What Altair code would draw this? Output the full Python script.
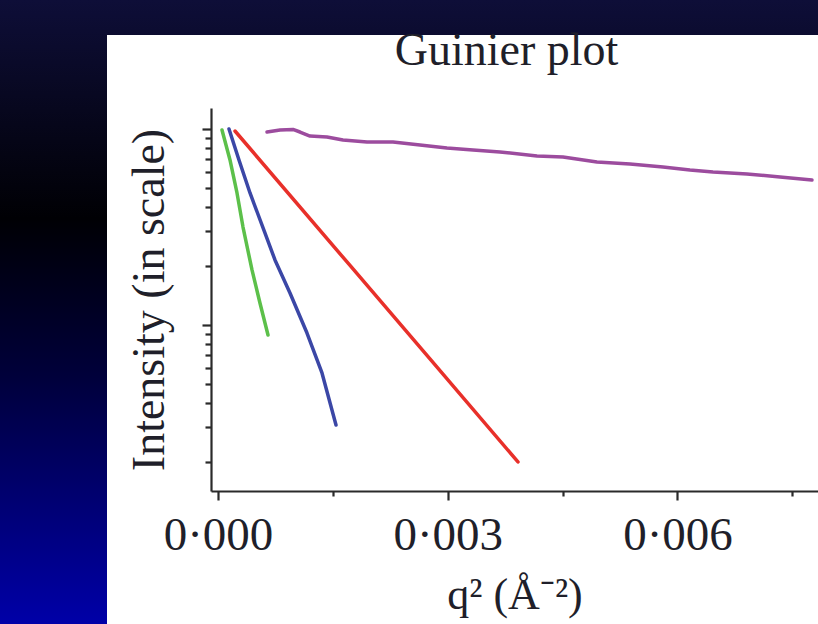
import altair as alt
import pandas as pd

# ---- data (q^2 in Å^-2, intensity in relative scale) ----
green_q2 = [0.0000522, 0.0001567, 0.0002481, 0.0003265, 0.000444, 0.000548, 0.000653]
green_I = [0.988, 0.695, 0.4716, 0.316, 0.191, 0.1295, 0.0889]

blue_q2 = [0.0001436, 0.000274, 0.000418, 0.000614, 0.000744, 0.000940, 0.001162, 0.001358, 0.001541]
blue_I = [1.0, 0.695, 0.4716, 0.2946, 0.2147, 0.1457, 0.0910, 0.0569, 0.0309]

red_q2 = [0.000222, 0.001724, 0.002768, 0.003917]
red_I = [0.977, 0.2012, 0.0671, 0.0200]

purple_q2 = [0.000640, 0.000810, 0.000979, 0.001071, 0.001201, 0.001423, 0.001632, 0.001946,
             0.002285, 0.002638, 0.002990, 0.003330, 0.003682, 0.004166, 0.004505, 0.004949,
             0.005380, 0.005811, 0.006163, 0.006464, 0.006908, 0.007339, 0.007756]
purple_I = [0.9654, 0.9883, 0.995, 0.9654, 0.921, 0.9103, 0.8788, 0.8584,
            0.8584, 0.8287, 0.8000, 0.7815, 0.7634, 0.7282, 0.7197, 0.6786,
            0.6629, 0.6400, 0.6178, 0.6035, 0.5895, 0.5691, 0.5494]

series_names = ["green", "blue", "red", "purple"]
series_colors = ["#5cc04a", "#3b47a6", "#e8302a", "#9c4c9e"]

x_ticks = [0, 0.0015, 0.003, 0.0045, 0.006, 0.0075]
y_ticks = [1, 0.9, 0.8, 0.7, 0.6, 0.5, 0.4, 0.3, 0.2,
           0.1, 0.09, 0.08, 0.07, 0.06, 0.05, 0.04, 0.03, 0.02]

chart_title = "Guinier plot"
x_title = "q² (Å⁻²)"
y_title = "Intensity (in scale)"

rows = []
for name, xs, ys in zip(series_names,
                        [green_q2, blue_q2, red_q2, purple_q2],
                        [green_I, blue_I, red_I, purple_I]):
    for i, (a, b) in enumerate(zip(xs, ys)):
        rows.append({"series": name, "q2": a, "I": b, "order": i})
df = pd.DataFrame(rows)

W, H = 607, 383
PL, PT, PB = 211, 108, 133
FONT = "Liberation Serif"
INK = "#1f1f2a"

one = pd.DataFrame({"label": [chart_title]})

# backdrop (slide background gradient) and white panel
backdrop = alt.Chart(one).mark_rect(
    color=alt.LinearGradient(
        gradient="linear",
        stops=[alt.GradientStop(color="#0e0e38", offset=0),
               alt.GradientStop(color="#000004", offset=0.35),
               alt.GradientStop(color="#00003a", offset=0.6),
               alt.GradientStop(color="#0000a8", offset=1)],
        x1=0, x2=0, y1=0, y2=1),
).encode(x=alt.value(-PL), x2=alt.value(W), y=alt.value(-PT), y2=alt.value(H + PB))

panel = alt.Chart(one).mark_rect(color="white").encode(
    x=alt.value(107 - PL), x2=alt.value(W), y=alt.value(35 - PT), y2=alt.value(H + PB)
)

title_text = alt.Chart(one).mark_text(
    font=FONT, fontSize=46, color=INK, align="center", baseline="alphabetic"
).encode(text="label:N", x=alt.value(W / 2 - 8), y=alt.value(-43))

x_major_test = "indexof([0,0.003,0.006], datum.value) >= 0"

lines = alt.Chart(df).mark_line(strokeWidth=3.5, strokeCap="round", strokeJoin="round").encode(
    x=alt.X("q2:Q",
            scale=alt.Scale(domain=[-0.0000914, 0.007835], nice=False, zero=False),
            axis=alt.Axis(
                values=x_ticks,
                title=x_title,
                titleFont=FONT, titleFontSize=44, titleFontWeight="normal", titleColor=INK,
                titleBaseline="alphabetic", titleY=117,
                labelFont=FONT, labelFontSize=47, labelColor=INK, labelPadding=12,
                labelExpr=x_major_test + " ? replace(format(datum.value, '.3f'), '.', '·') : ''",
                labelOverlap=False, labelFlush=False,
                tickSize={"condition": {"test": x_major_test, "value": 9}, "value": 5},
                tickColor="#2a2a2a", tickWidth=2.2,
                domainColor="#2a2a2a", domainWidth=2.2,
                grid=False, zindex=2,
            )),
    y=alt.Y("I:Q",
            scale=alt.Scale(type="log", domain=[0.01422, 1.28], nice=False),
            axis=alt.Axis(
                values=y_ticks,
                labels=False,
                title=y_title,
                titleFont=FONT, titleFontSize=46, titleFontWeight="normal", titleColor=INK,
                titleAngle=270, titleBaseline="alphabetic", titleAlign="center",
                titleX=-48, titleY=H / 2,
                tickSize={"condition": {"test": "datum.value == 1 || datum.value == 0.1", "value": 9}, "value": 6},
                tickColor="#2a2a2a", tickWidth=2.2,
                domainColor="#2a2a2a", domainWidth=2.2,
                grid=False, zindex=2,
            )),
    color=alt.Color("series:N",
                    scale=alt.Scale(domain=series_names, range=series_colors),
                    legend=None),
    order="order:Q",
)

chart = alt.layer(backdrop, panel, title_text, lines).properties(
    width=W, height=H,
    autosize=alt.AutoSizeParams(type="none"),
    padding={"left": PL, "top": PT, "right": 0, "bottom": PB},
).configure(background="#000010").configure_view(stroke=None)

chart.save("out.html", embed_options={"renderer": "svg", "actions": False})
